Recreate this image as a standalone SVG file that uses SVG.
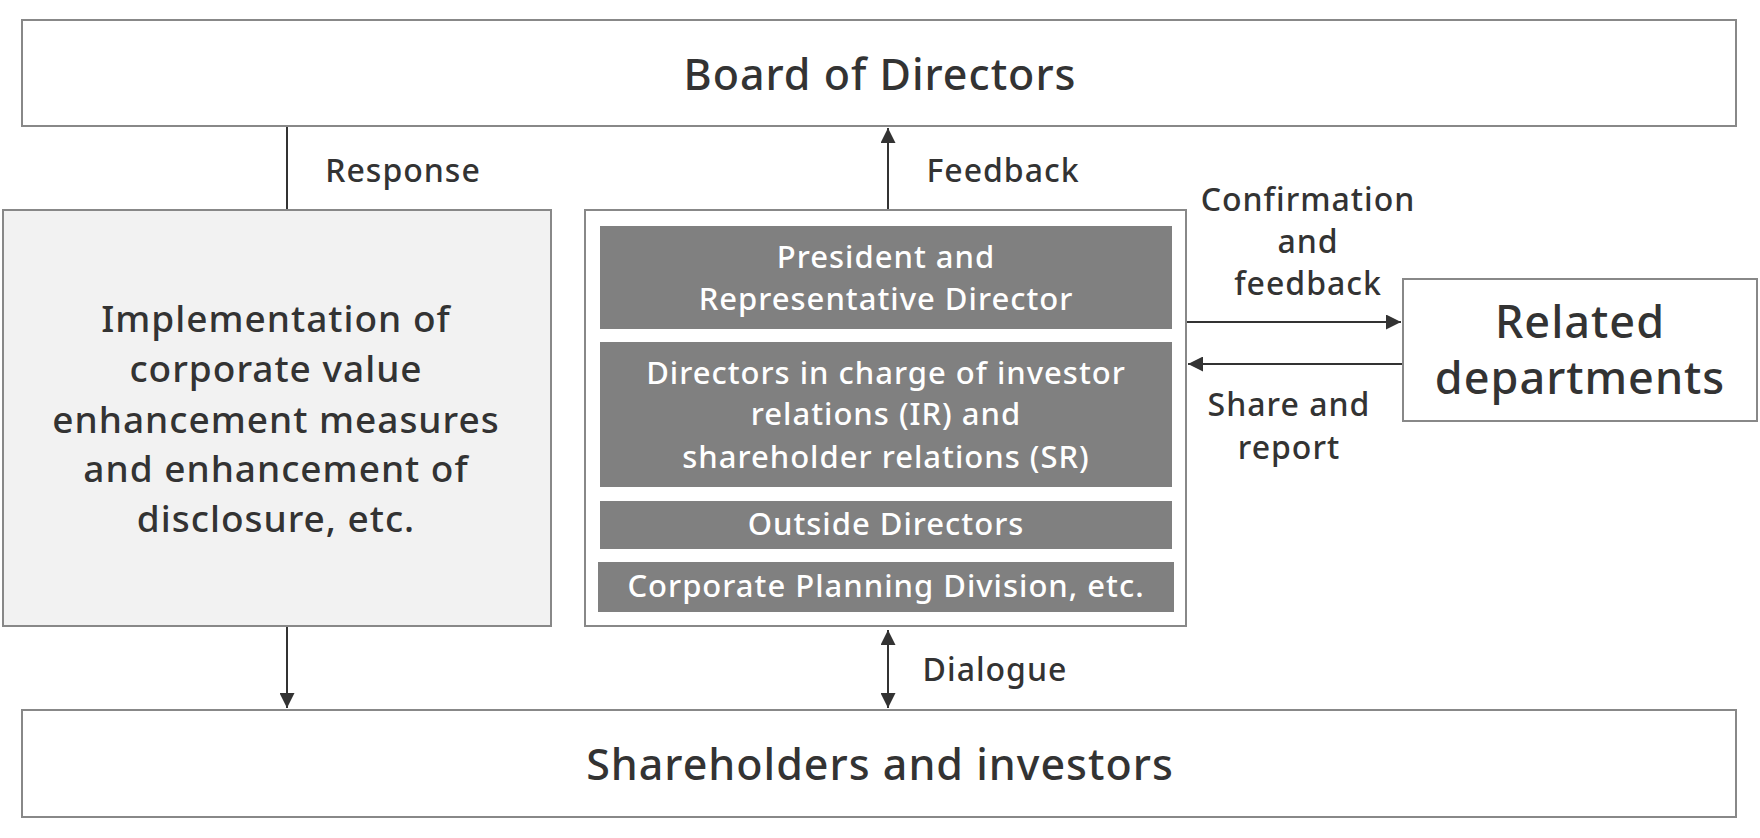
<svg xmlns="http://www.w3.org/2000/svg" width="1760" height="838" viewBox="0 0 1760 838">
<defs>
<marker id="ah" viewBox="0 0 10 10" refX="10" refY="5" markerWidth="15" markerHeight="15" markerUnits="userSpaceOnUse" orient="auto-start-reverse"><path d="M0,0L10,5L0,10z" fill="#333"/></marker>
<style>
text{font-family:"Noto Sans","DejaVu Sans",sans-serif;fill:#333;text-anchor:middle;dominant-baseline:middle;letter-spacing:1px;font-weight:500}
.b{fill:#fff;stroke:#888;stroke-width:2}
.g{fill:#808080}
.w{fill:#fff;font-size:31px}
.l{font-size:32px}
.c{stroke:#333;stroke-width:2;fill:none}
</style>
</defs>
<rect width="1760" height="838" fill="#fff"/>
<g id="connectors">
<line class="c" x1="287" y1="126" x2="287" y2="210"/>
<line class="c" x1="888" y1="210" x2="888" y2="128" marker-end="url(#ah)"/>
<line class="c" x1="287" y1="626" x2="287" y2="708" marker-end="url(#ah)"/>
<line class="c" x1="888" y1="630" x2="888" y2="708" marker-start="url(#ah)" marker-end="url(#ah)"/>
<line class="c" x1="1186" y1="322" x2="1401" y2="322" marker-end="url(#ah)"/>
<line class="c" x1="1403" y1="364" x2="1188" y2="364" marker-end="url(#ah)"/>
<text class="l" x="403" y="173">Response</text>
<text class="l" x="1003" y="173">Feedback</text>
<text class="l" x="1308" y="202">Confirmation</text>
<text class="l" x="1308" y="244">and</text>
<text class="l" x="1308" y="286">feedback</text>
<text class="l" x="1289" y="407">Share and</text>
<text class="l" x="1289" y="450">report</text>
<text class="l" x="995" y="672">Dialogue</text>
</g>
<g id="board"><rect class="b" x="22" y="20" width="1714" height="106"/><text x="880" y="78" font-size="43">Board of Directors</text></g>
<g id="shareholders"><rect class="b" x="22" y="710" width="1714" height="107"/><text x="880" y="768" font-size="43">Shareholders and investors</text></g>
<g id="implementation"><rect x="3" y="210" width="548" height="416" fill="#f2f2f2" stroke="#888" stroke-width="2"/>
<text font-size="37" x="276"><tspan x="276" y="322">Implementation of</tspan><tspan x="276" y="372">corporate value</tspan><tspan x="276" y="423">enhancement measures</tspan><tspan x="276" y="472">and enhancement of</tspan><tspan x="276" y="522">disclosure, etc.</tspan></text></g>
<g id="center"><rect class="b" x="585" y="210" width="601" height="416"/>
<g id="president"><rect class="g" x="600" y="226" width="572" height="103"/><text class="w" x="886" y="260">President and</text><text class="w" x="886" y="302">Representative Director</text></g>
<g id="irsr"><rect class="g" x="600" y="342" width="572" height="145"/><text class="w" x="886" y="376">Directors in charge of investor</text><text class="w" x="886" y="417">relations (IR) and</text><text class="w" x="886" y="460">shareholder relations (SR)</text></g>
<g id="outside"><rect class="g" x="600" y="501" width="572" height="48"/><text class="w" x="886" y="527">Outside Directors</text></g>
<g id="planning"><rect class="g" x="598" y="562" width="576" height="50"/><text class="w" x="886" y="589">Corporate Planning Division, etc.</text></g>
</g>
<g id="related"><rect class="b" x="1403" y="279" width="354" height="142"/><text x="1580" y="326" font-size="45">Related</text><text x="1580" y="382" font-size="45">departments</text></g>
</svg>
